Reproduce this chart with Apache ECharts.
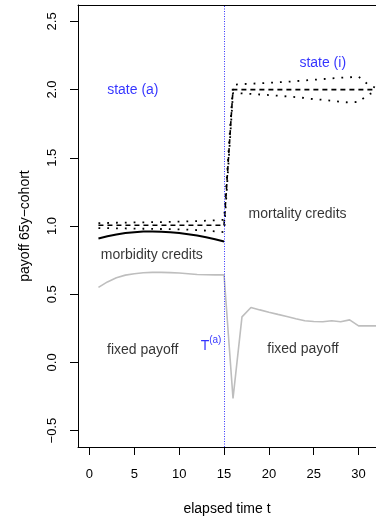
<!DOCTYPE html>
<html>
<head>
<meta charset="utf-8">
<script src="https://cdn.jsdelivr.net/npm/echarts@6/dist/echarts.min.js"></script>
<style>html,body{margin:0;padding:0;background:#fff}#c{width:376px;height:516px}</style>
</head>
<body>
<div id="c"></div>
<script>
var tAll = [1,2,3,4,5,6,7,8,9,10,11,12,13,14,15,16,17,18,19,20,21,22,23,24,25,26,27,28,29,30,31,32];
var tA = [1,2,3,4,5,6,7,8,9,10,11,12,13,14,15];
var fixedPayoff = [0.55,0.59,0.62,0.64,0.65,0.657,0.66,0.66,0.658,0.655,0.65,0.645,0.643,0.642,0.642,
  -0.264,0.334,0.403,0.385,0.368,0.352,0.337,0.32,0.305,0.30,0.298,0.305,0.298,0.312,0.268,0.268,0.268];
var morbidity = [0.909,0.925,0.938,0.948,0.955,0.959,0.96,0.958,0.954,0.948,0.94,0.93,0.918,0.903,0.887];
var meanPayoff = [1.005,1.005,1.005,1.005,1.005,1.005,1.005,1.005,1.005,1.005,1.005,1.005,1.005,1.005,1.005,
  2.0,2.0,2.0,2.0,2.0,2.0,2.0,2.0,2.0,2.0,2.0,2.0,2.0,2.0,2.0,2.0,2.0];
var upperPayoff = [1.02,1.022,1.024,1.025,1.026,1.027,1.028,1.029,1.03,1.032,1.034,1.036,1.039,1.042,1.045,
  2.035,2.04,2.043,2.046,2.05,2.053,2.057,2.062,2.067,2.072,2.077,2.082,2.087,2.09,2.095,2.04,2.01];
var lowerPayoff = [0.985,0.984,0.983,0.982,0.981,0.98,0.979,0.978,0.977,0.975,0.973,0.97,0.966,0.961,0.955,
  1.975,1.972,1.968,1.964,1.96,1.955,1.95,1.945,1.938,1.93,1.925,1.918,1.91,1.905,1.91,1.96,1.99];
var xTicks = [0,5,10,15,20,25,30];
var yTicks = [-0.5,0,0.5,1,1.5,2,2.5];
var yTickLabels = ['\u22120.5','0.0','0.5','1.0','1.5','2.0','2.5'];
var switchTime = 15;
var annotations = [
  [4.83, 1.995, 'state (a)', 'blue'],
  [26.0, 2.195, 'state (i)', 'blue'],
  [23.2, 1.09, 'mortality credits', '#000'],
  [6.95, 0.79, 'morbidity credits', '#000'],
  [5.93, 0.09, 'fixed payoff', '#000'],
  [23.8, 0.10, 'fixed payoff', '#000'],
  [13.55, 0.135, '{t|T}{s|(a)}', 'blue']
];

function pairs(xs, ys){ return xs.map(function(x,i){ return [x, ys[i]]; }); }
var FONT = 'Liberation Sans';
var X_MIN = -1.28, X_MAX = 31.94;

var chart = echarts.init(document.getElementById('c'), null, {renderer:'canvas'});
chart.setOption({
  animation: false,
  backgroundColor: '#fff',
  textStyle: {fontFamily: FONT},
  grid: {left: 78, top: 5, right: 0, height: 442, show: false, containLabel: false, outerBoundsMode: 'none'},
  xAxis: [{
    type: 'value', min: X_MIN, max: X_MAX, position: 'bottom',
    name: 'elapsed time t', nameLocation: 'middle', nameGap: 55,
    nameTextStyle: {fontFamily: FONT, fontSize: 14, color: '#000'},
    axisLine: {show: true, onZero: false, lineStyle: {color: '#000', width: 1}},
    splitLine: {show: false},
    axisTick: {show: true, customValues: xTicks, length: 8, lineStyle: {color: '#000', width: 1}},
    axisLabel: {customValues: xTicks, margin: 21, fontFamily: FONT, fontSize: 13, color: '#000'}
  }, {
    type: 'value', min: X_MIN, max: X_MAX, position: 'top',
    axisLine: {show: true, onZero: false, lineStyle: {color: '#000', width: 1}},
    splitLine: {show: false}, axisTick: {show: false}, axisLabel: {show: false}
  }],
  yAxis: {
    type: 'value', min: -0.62, max: 2.62,
    name: 'payoff 65y\u2212cohort', nameLocation: 'middle', nameGap: 46, nameRotate: 90,
    nameTextStyle: {fontFamily: FONT, fontSize: 14, color: '#000'},
    axisLine: {show: true, onZero: false, lineStyle: {color: '#000', width: 1}},
    splitLine: {show: false},
    axisTick: {show: true, customValues: yTicks, length: 8, lineStyle: {color: '#000', width: 1}},
    axisLabel: {customValues: yTicks, rotate: 90, margin: 19, fontFamily: FONT, fontSize: 13, color: '#000',
      formatter: function(v){ var i = yTicks.indexOf(v); return i >= 0 ? yTickLabels[i] : ''; }}
  },
  series: [
    {type: 'line', data: pairs(tAll, fixedPayoff), symbol: 'none', lineStyle: {color: '#bebebe', width: 1.6},
      markLine: {silent: true, symbol: 'none', label: {show: false},
        lineStyle: {color: '#3333ff', width: 1, type: [1, 1.5]}, data: [{xAxis: switchTime}]}},
    {type: 'line', data: pairs(tA, morbidity), symbol: 'none', lineStyle: {color: '#000', width: 2}},
    {type: 'line', data: pairs(tAll, meanPayoff), symbol: 'none', lineStyle: {color: '#000', width: 1.6, type: [5, 4]}},
    {type: 'line', data: pairs(tAll, upperPayoff), symbol: 'none', lineStyle: {color: '#000', width: 1.8, type: [1.8, 7]}},
    {type: 'line', data: pairs(tAll, lowerPayoff), symbol: 'none', lineStyle: {color: '#000', width: 1.8, type: [1.8, 7]}},
    {type: 'scatter', symbolSize: 0, silent: true,
      data: annotations.map(function(a){ return {value: [a[0], a[1]], name: a[2],
        label: {color: a[3]}}; }),
      label: {show: true, position: 'inside', fontFamily: FONT, fontSize: 14,
        formatter: function(p){ return p.name; },
        rich: {t: {fontSize: 14, color: 'blue', fontFamily: FONT, verticalAlign: 'bottom'},
               s: {fontSize: 10, color: 'blue', fontFamily: FONT, verticalAlign: 'top', padding: [0,0,8,0]}}}}
  ]
});
</script>
</body>
</html>
